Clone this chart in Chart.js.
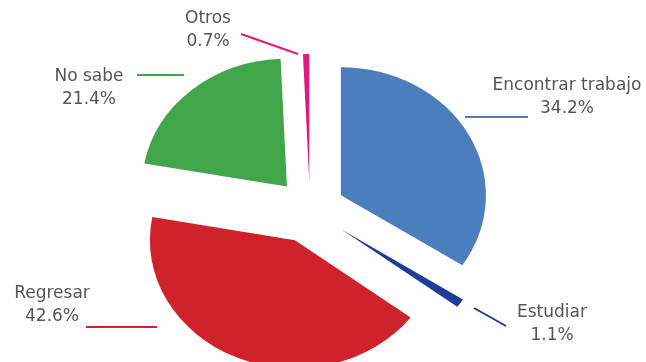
<!DOCTYPE html>
<html>
<head>
<meta charset="utf-8">
<script src="https://cdn.jsdelivr.net/npm/chart.js@4.4.1/dist/chart.umd.min.js"></script>
<style>
  html, body { margin: 0; padding: 0; background: #fff; }
  #wrap { width: 646px; height: 362px; }
</style>
</head>
<body>
<div id="wrap"><canvas id="motivosChart" width="646" height="362"></canvas></div>
<script>
const categories = ['Encontrar trabajo', 'Estudiar', 'Regresar', 'No sabe', 'Otros'];
const percentages = [34.2, 1.1, 42.6, 21.4, 0.7];
const sliceColors = ['#4a7ebc', '#1f3d96', '#d0222b', '#41a64a', '#e6177f'];

// how far each slice is pulled out from the centre (px)
const explodeBy = [31, 34, 33, 31, 28];
const STRETCH_X = 1.133;

// text centre + leader line for each slice label
const labelLayout = [
    { x: 567, y: 86, line: [465, 117, 528, 117] },
    { x: 552, y: 313, line: [474, 308, 506, 326] },
    { x: 52, y: 294, line: [86, 327, 157, 327] },
    { x: 89, y: 77, line: [137, 75, 184, 75] },
    { x: 208, y: 19, line: [241, 34, 298, 54] }
];

// move every arc out along its middle angle
// (the built-in offset option also grows thin slices, so do it here)
const explodeSlices = {
    id: 'explodeSlices',
    afterDatasetUpdate(chart, args) {
        args.meta.data.forEach((arc, i) => {
            const mid = (arc.startAngle + arc.endAngle) / 2;
            arc.x += Math.cos(mid) * explodeBy[i];
            arc.y += Math.sin(mid) * explodeBy[i];
        });
    }
};

// pie is drawn slightly wider than tall
const stretchPie = {
    id: 'stretchPie',
    beforeDatasetsDraw(chart) {
        const area = chart.chartArea;
        const cx = (area.left + area.right) / 2;
        const cy = (area.top + area.bottom) / 2;
        const ctx = chart.ctx;
        ctx.save();
        ctx.translate(cx, cy);
        ctx.scale(STRETCH_X, 1);
        ctx.translate(-cx, -cy);
    },
    afterDatasetsDraw(chart) {
        chart.ctx.restore();
    }
};

const sliceLabels = {
    id: 'sliceLabels',
    afterDraw(chart) {
        const ctx = chart.ctx;
        ctx.save();
        categories.forEach((name, i) => {
            const pos = labelLayout[i];
            const l = pos.line;
            ctx.strokeStyle = sliceColors[i];
            ctx.lineWidth = 2;
            ctx.beginPath();
            ctx.moveTo(l[0], l[1]);
            ctx.lineTo(l[2], l[3]);
            ctx.stroke();

            ctx.fillStyle = '#555';
            ctx.font = '17px "DejaVu Sans", sans-serif';
            ctx.textAlign = 'center';
            ctx.textBaseline = 'middle';
            ctx.fillText(name, pos.x, pos.y);
            ctx.fillText(percentages[i].toFixed(1) + '%', pos.x, pos.y + 23);
        });
        ctx.restore();
    }
};

new Chart(document.getElementById('motivosChart'), {
    type: 'pie',
    data: {
        labels: categories,
        datasets: [{
            data: percentages,
            backgroundColor: sliceColors,
            borderWidth: 0,
            clip: false
        }]
    },
    options: {
        responsive: false,
        animation: false,
        events: [],
        radius: 128,
        layout: {
            padding: { left: 0, right: 26, top: 58, bottom: 0 }
        },
        plugins: {
            legend: { display: false },
            tooltip: { enabled: false }
        }
    },
    plugins: [explodeSlices, stretchPie, sliceLabels]
});
</script>
</body>
</html>
